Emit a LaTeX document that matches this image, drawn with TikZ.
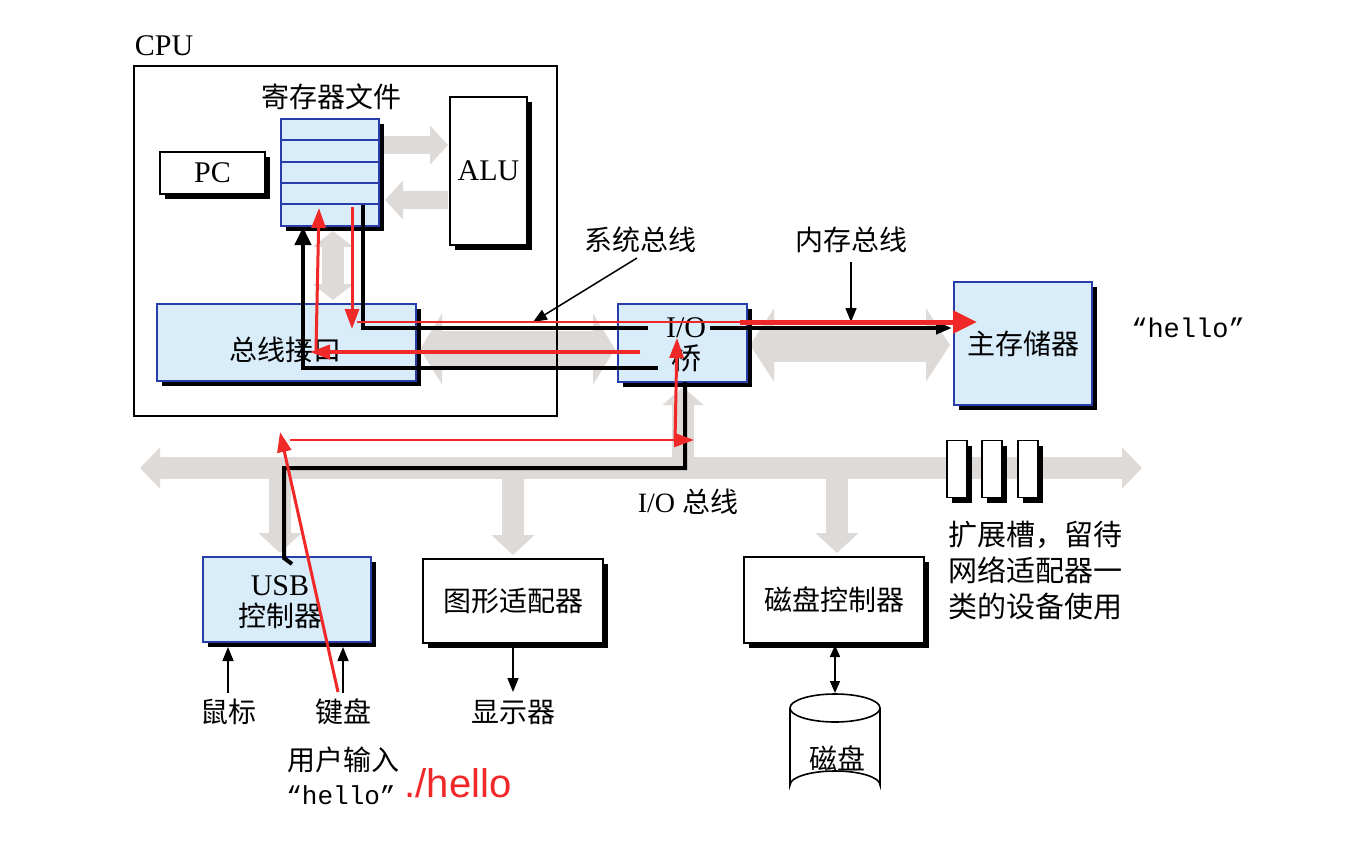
\documentclass[tikz,border=0pt]{standalone}
\usepackage{fontspec}
\setmainfont{Liberation Serif}
\setmonofont{Liberation Mono}
\newfontfamily\cjk{Noto Sans CJK SC}
\newfontfamily\sansf{Liberation Sans}
\usetikzlibrary{arrows.meta,shadows}
\definecolor{boxblue}{RGB}{216,236,250}
\definecolor{boxedge}{RGB}{40,60,170}
\definecolor{redline}{RGB}{240,40,40}
\definecolor{busgray}{RGB}{222,218,216}
\tikzset{
  shbox/.style={draw=black, line width=1.4pt, fill=white, inner sep=0pt, outer sep=0pt,
    drop shadow={shadow xshift=5pt, shadow yshift=-5pt, fill=black, opacity=1}},
  bluebox/.style={shbox, draw=boxedge, fill=boxblue},
  lab/.style={font=\cjk\fontsize{28}{33}\selectfont, inner sep=0pt},
  latin/.style={font=\fontsize{30}{34}\selectfont, inner sep=0pt},
  gbar/.style={draw=busgray},
  blk/.style={draw=black, line width=4pt},
  thin/.style={draw=black, line width=1.5pt, -{Triangle[length=14pt,width=11pt]}},
  redarrow/.style={draw=redline, line width=3pt, -{Triangle[length=20pt,width=14pt]}}
}
\begin{document}
\begin{tikzpicture}[x=1pt,y=-1pt]
\useasboundingbox (0,0) rectangle (1360,846);
\fill[white] (0,0) rectangle (1360,846);

% ---------- coordinates for gray buses ----------
\coordinate (sbL) at (420,349); \coordinate (sbR) at (615,349);
\coordinate (mbL) at (750,345); \coordinate (mbR) at (950,345);
\coordinate (raS) at (383,145); \coordinate (raE) at (448,145);
\coordinate (arS) at (448,200); \coordinate (arE) at (385,200);
\coordinate (rbT) at (333,231); \coordinate (rbB) at (333,300);
\coordinate (ioL) at (140,468); \coordinate (ioR) at (1142,468);
\coordinate (brT) at (683,387); \coordinate (brB) at (683,462);
\coordinate (uT) at (280,474); \coordinate (uB) at (280,553);
\coordinate (gT) at (513,474); \coordinate (gB) at (513,555);
\coordinate (dT) at (837,474); \coordinate (dB) at (837,553);

% ---------- gray buses ----------
\draw[gbar, line width=36pt, {Triangle[length=22pt,width=70pt]}-{Triangle[length=22pt,width=70pt]}] (sbL) -- (sbR);
\draw[gbar, line width=33pt, {Triangle[length=24pt,width=72pt]}-{Triangle[length=24pt,width=72pt]}] (mbL) -- (mbR);
\draw[gbar, line width=18pt, -{Triangle[length=18pt,width=38pt]}] (raS) -- (raE);
\draw[gbar, line width=18pt, -{Triangle[length=18pt,width=38pt]}] (arS) -- (arE);
\draw[gbar, line width=22pt, {Triangle[length=16pt,width=40pt]}-{Triangle[length=16pt,width=40pt]}] (rbB) -- (rbT);
\draw[gbar, line width=22pt, {Triangle[length=20pt,width=40pt]}-{Triangle[length=20pt,width=40pt]}] (ioL) -- (ioR);
\draw[gbar, line width=22pt, -{Triangle[length=18pt,width=40pt]}] (brB) -- (brT);
\draw[gbar, line width=22pt, -{Triangle[length=20pt,width=42pt]}] (uT) -- (uB);
\draw[gbar, line width=22pt, -{Triangle[length=20pt,width=42pt]}] (gT) -- (gB);
\draw[gbar, line width=22pt, -{Triangle[length=20pt,width=42pt]}] (dT) -- (dB);

% ---------- CPU ----------
\node[latin] (cpulab) at (164,46) {CPU};
\node[draw=black, line width=2.5pt, minimum width=423pt, minimum height=350pt, inner sep=0pt] (cpu) at (345.5,241) {};
\node[lab] (reglab) at (331,97) {寄存器文件};
\node[shbox, minimum width=105pt, minimum height=42pt] (pc) at (212.5,173) {};
\node[latin] at (pc.center) {PC};
\node[bluebox, minimum width=98pt, minimum height=107pt] (reg) at (330,172.5) {};
\foreach \yy in {140,162,183,204} \draw[boxedge, line width=1.3pt] (281,\yy) -- (379,\yy);
\node[shbox, minimum width=77pt, minimum height=148pt] (alu) at (488.5,171) {};
\node[latin] at (alu.center) {ALU};
\node[bluebox, minimum width=259pt, minimum height=77pt] (bif) at (286.5,342.5) {};

% ---------- bridge, memory ----------
\node[bluebox, minimum width=129pt, minimum height=78pt] (bridge) at (682.5,343) {};
\node[bluebox, minimum width=138pt, minimum height=123pt] (mem) at (1023,343.5) {};
\node[lab] at (mem.center) {主存储器};
\node[font=\ttfamily\fontsize{27}{30}\selectfont, inner sep=0pt] (hello1) at (1188,328) {“hello”};

% ---------- bus labels ----------
\node[lab] (sysbus) at (640,240) {系统总线};
\node[lab] (membus) at (851,240) {内存总线};
\coordinate (sysA) at (637,258); \coordinate (sysB) at (533,322);
\coordinate (memA) at (851,262); \coordinate (memB) at (851,322);
\draw[thin] (sysA) -- (sysB);
\draw[thin] (memA) -- (memB);

% ---------- I/O devices ----------
\node[bluebox, minimum width=168pt, minimum height=85pt] (usb) at (287,599.5) {};
\node[shbox, minimum width=180pt, minimum height=84pt] (gfx) at (513,601) {};
\node[lab] at (gfx.center) {图形适配器};
\node[shbox, minimum width=180pt, minimum height=86pt] (dctl) at (834,600) {};
\node[lab] at (dctl.center) {磁盘控制器};
\foreach \sx/\nm in {957/s1,992/s2,1028/s3}
  \node[shbox, line width=1.6pt, minimum width=20pt, minimum height=57pt] (\nm) at (\sx,469) {};
\node[lab, align=left, anchor=north west, font=\cjk\fontsize{29}{36}\selectfont] (slotlab) at (948,521) {扩展槽，留待\\网络适配器一\\类的设备使用};
\node[font=\fontsize{28}{33}\selectfont, inner sep=0pt] (iolab) at (688,502) {I/O {\cjk 总线}};

% mouse, keyboard, display
\node[lab] (mouse) at (228,712) {鼠标};
\node[lab] (kbd) at (343,712) {键盘};
\node[lab] (disp) at (513,712) {显示器};
\coordinate (mA) at (228,693); \coordinate (mB) at (228,647);
\coordinate (kA) at (343,693); \coordinate (kB) at (343,647);
\coordinate (dA) at (513,645); \coordinate (dB2) at (513,692);
\draw[thin] (mA) -- (mB);
\draw[thin] (kA) -- (kB);
\draw[thin] (dA) -- (dB2);

% disk
\draw[black, line width=1.6pt, fill=white] (790,708) -- (790,785) arc[start angle=180, end angle=360, x radius=45, y radius=14] -- (880,708);
\draw[black, line width=1.6pt, fill=white] (835,708) ellipse[x radius=45, y radius=14];
\node[lab] (disk) at (837,758) {磁盘};
\coordinate (dcB) at (835,645); \coordinate (dkT) at (835,693);
\draw[black, line width=1.5pt, {Triangle[length=12pt,width=10pt]}-{Triangle[length=12pt,width=10pt]}] (dcB) -- (dkT);

% user input text
\node[lab] (user) at (343,760) {用户输入};
\node[font=\ttfamily\fontsize{26}{30}\selectfont, inner sep=0pt] (hello2) at (341,795) {“hello”};
\node[font=\sansf\fontsize{40}{44}\selectfont, text=redline, inner sep=0pt] (cmd) at (458,783) {./hello};

% ---------- black data paths ----------
\coordinate (b1s) at (363,205); \coordinate (b1c) at (363,328); \coordinate (b1e) at (648,328);
\coordinate (b1r) at (710,328); \coordinate (b1m) at (952,328);
\draw[blk] (b1s) -- (b1c) -- (b1e);
\draw[blk, -{Triangle[length=16pt,width=12pt]}] (b1r) -- (b1m);
\coordinate (b2e) at (658,368); \coordinate (b2c) at (303,368); \coordinate (b2t) at (303,227);
\draw[blk, -{Triangle[length=18pt,width=16pt]}] (b2e) -- (b2c) -- (b2t);
\coordinate (b3s) at (685,382); \coordinate (b3c) at (685,468); \coordinate (b3d) at (284,468); \coordinate (b3u) at (284,558); \coordinate (b3k) at (292,564);
\draw[blk] (b3s) -- (b3c) -- (b3d) -- (b3u) -- (b3k);

% ---------- labels over the paths ----------
\node[lab] (biflab) at (285,350) {总线接口};
\node[latin, align=center] (brlab) at (686,345) {I/O\\[-2pt]{\cjk 桥}};
\node[lab, align=center] (usblab) at (280,602) {{\rmfamily\fontsize{30}{34}\selectfont USB}\\[-2pt]控制器};

% ---------- red annotation path ----------
\coordinate (r1s) at (338,692); \coordinate (r1e) at (280,432);
\coordinate (r2s) at (290,440); \coordinate (r2e) at (694,440);
\coordinate (r3s) at (675,442); \coordinate (r3e) at (677,338);
\coordinate (r4s) at (640,352); \coordinate (r4e) at (310,352);
\coordinate (r5s) at (316,350); \coordinate (r5e) at (319,208);
\coordinate (r6s) at (352,207); \coordinate (r6e) at (352,329);
\coordinate (r7s) at (357,322); \coordinate (r7m) at (740,322); \coordinate (r7e) at (977,322);
\draw[redarrow] (r1s) -- (r1e);
\draw[redarrow, line width=2.5pt] (r2s) -- (r2e);
\draw[redarrow] (r3s) -- (r3e);
\draw[redarrow, line width=3.5pt] (r4s) -- (r4e);
\draw[redarrow] (r5s) -- (r5e);
\draw[redarrow] (r6s) -- (r6e);
\draw[redline, line width=2.5pt] (r7s) -- (r7m);
\draw[redline, line width=5pt, -{Triangle[length=24pt,width=22pt]}] (r7m) -- (r7e);
\end{tikzpicture}
\end{document}
